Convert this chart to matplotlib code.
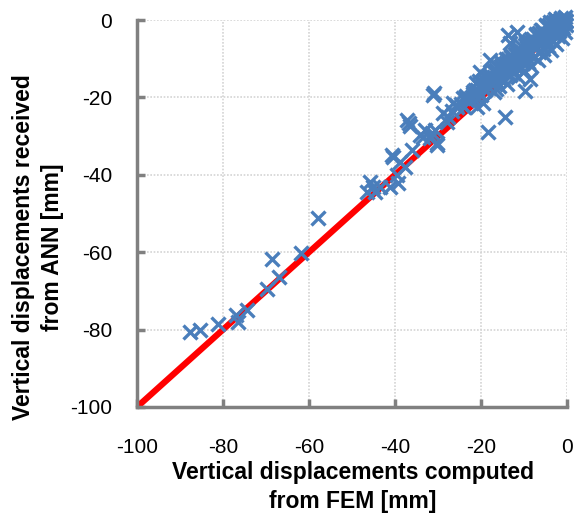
import matplotlib
matplotlib.use("Agg")
from matplotlib import pyplot as plt

# FEM (x) vs ANN (y) vertical displacements, mm
fem_sparse = [-87.7, -85.3, -81.2, -77.0, -76.5, -74.4, -69.8, -67.0, -68.6, -61.9,
              -57.9, -45.8, -46.5, -44.7, -43.5, -45.1, -41.2, -39.5, -39.3, -40.7,
              -38.8, -37.7, -36.0, -36.7, -37.2, -36.4, -40.5, -34.2, -33.5, -33.0,
              -31.9, -31.4, -30.7, -30.2, -30.2, -31.2, -30.9, -27.9, -27.7, -28.8,
              -26.5, -25.6, -24.2, -23.7, -23.3, -20.9, -19.5]
ann_sparse = [-80.6, -80.1, -78.6, -76.2, -78.0, -74.9, -69.5, -66.4, -61.8, -60.2,
              -51.2, -41.9, -44.4, -44.4, -43.2, -43.2, -43.2, -40.1, -42.1, -34.9,
              -36.7, -38.0, -33.6, -26.6, -25.8, -27.4, -35.4, -29.7, -30.2, -28.4,
              -30.5, -29.2, -28.4, -32.3, -31.8, -19.4, -18.9, -26.4, -25.1, -24.0,
              -21.4, -22.5, -20.2, -20.2, -20.7, -22.5, -21.4]

fem_dense = [-22.5, -21.9, -21.8, -21.0, -20.5, -20.2, -20.0, -19.6, -19.0, -18.5,
             -18.2, -17.9, -17.8, -17.5, -17.0, -16.8, -16.5, -16.0, -15.8, -15.5,
             -15.0, -14.6, -14.2, -14.0, -13.5, -13.2, -12.8, -12.5, -12.0, -11.8,
             -11.5, -11.0, -10.8, -10.5, -10.2, -10.0, -9.6, -9.2, -9.0, -8.6,
             -8.3, -8.0, -7.7, -7.4, -7.0, -6.8, -6.5, -6.2, -6.0, -5.6,
             -5.3, -5.0, -4.7, -4.5, -4.1, -3.8, -3.5, -3.2, -3.0, -2.8,
             -2.6, -2.3, -2.0, -1.8, -1.4, -1.2, -1.0, -0.7, -0.5, -0.3,
             -0.2, -19.2, -18.8, -16.2, -14.8, -13.0, -12.2, -9.8, -8.8, -7.2,
             -5.8, -4.8, -3.3, -1.6, -0.9, -21.2, -20.4, -17.3, -15.2, -13.8,
             -11.2, -9.4, -6.6, -4.2, -2.5, -13.7, -13.3, -11.6, -22.8, -23.5,
             -9.8, -8.6, -14.4, -18.4, -24.6, -25.8, -26.8, -16.4, -12.6, -7.9,
             -19.8, -18.0, -16.6, -15.4, -14.3, -13.0, -11.9, -10.6, -9.5, -8.4,
             -7.3, -6.1, -5.0, -3.9, -2.7, -1.5, -0.4, -17.6, -15.9, -14.1,
             -12.4, -10.9, -9.1, -7.6, -6.3, -4.6, -3.1, -1.9, -20.8, -19.4,
             -16.9, -13.6, -11.4, -8.1, -5.5, -2.2, -0.8, -24.0, -22.2, -21.5]
ann_dense = [-20.5, -18.6, -19.2, -18.0, -17.0, -13.4, -19.5, -16.2, -18.0, -15.0,
             -17.5, -10.3, -14.3, -16.4, -18.6, -13.5, -15.8, -14.2, -17.0, -12.6,
             -15.2, -13.0, -11.2, -16.5, -12.4, -14.3, -10.5, -13.6, -11.5, -9.0,
             -14.8, -10.2, -12.3, -8.2, -11.0, -13.2, -9.4, -7.2, -10.8, -8.5,
             -12.0, -6.3, -9.6, -7.5, -5.6, -10.4, -8.2, -6.3, -4.5, -7.4,
             -9.1, -5.2, -3.6, -6.6, -4.6, -7.8, -2.8, -5.3, -3.8, -0.9,
             -6.2, -1.9, -4.2, -2.8, -1.2, -4.6, -2.0, -0.6, -3.0, -1.2,
             -0.2, -15.6, -14.8, -12.0, -11.4, -9.6, -8.8, -6.4, -5.4, -4.0,
             -2.6, -1.6, -0.6, 0.0, -0.4, -16.4, -15.8, -13.2, -11.0, -10.2,
             -7.6, -6.0, -3.4, -1.2, -0.1, -3.9, -5.9, -3.1, -20.8, -19.6,
             -18.4, -15.2, -25.1, -29.0, -21.8, -22.0, -23.4, -17.8, -12.8, -4.8,
             -17.2, -14.6, -13.0, -11.8, -10.0, -9.0, -8.0, -6.8, -5.8, -4.9,
             -3.7, -2.6, -1.4, -0.5, 0.3, 0.5, 0.8, -16.0, -15.0, -13.6,
             -11.6, -10.0, -8.4, -6.7, -5.2, -3.8, -2.0, -0.8, -18.9, -17.6,
             -14.6, -11.0, -8.9, -5.9, -3.3, -0.5, 0.2, -22.6, -20.0, -18.2]

ref_line = [-100, 0]
x_ticks = [-100, -80, -60, -40, -20, 0]
y_ticks = [-100, -80, -60, -40, -20, 0]

plt.rcParams['font.family'] = ['Liberation Sans', 'DejaVu Sans']
plt.rcParams['axes.unicode_minus'] = False

fig = plt.figure(figsize=(5.74, 5.23), dpi=100)
ax = fig.add_axes([137/574, 1 - 407/523, 430/574, 387/523])

ax.plot(ref_line, ref_line, color='#ff0000', lw=4.5, zorder=2, solid_capstyle='butt')
ax.plot(fem_sparse + fem_dense, ann_sparse + ann_dense, ls='none', marker='x',
        ms=10.5, mew=2.4, color='#4a7ebb', zorder=3, clip_on=False)

ax.set_xlim(-100, 0)
ax.set_ylim(-100, 0)
ax.set_xticks(x_ticks)
ax.set_yticks(y_ticks)
ax.grid(True, color='#d4d4d4', lw=1.2, ls=(0, (1, 1)))
ax.set_axisbelow(True)

for s in ['top', 'right']:
    ax.spines[s].set_visible(False)
for s in ['left', 'bottom']:
    ax.spines[s].set_color('#808080')
    ax.spines[s].set_linewidth(2.5)
ax.tick_params(direction='in', length=6, width=2.5, color='#808080',
               labelsize=15)
ax.tick_params(axis='x', pad=22)
ax.tick_params(axis='y', pad=18)

fig.text(353/574, 1 - 487/523, 'Vertical displacements computed\nfrom FEM [mm]',
         ha='center', va='center', fontsize=16.5, fontweight='bold', linespacing=1.3)
fig.text(38/574, 1 - 247/523, 'Vertical displacements received\nfrom ANN [mm]',
         ha='center', va='center', fontsize=16.5, fontweight='bold', rotation=90,
         linespacing=1.3)

fig.savefig('out.png', dpi=100)
